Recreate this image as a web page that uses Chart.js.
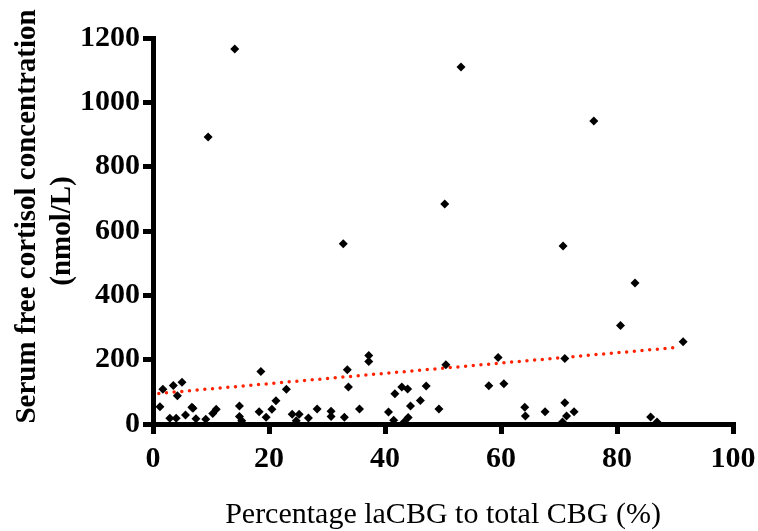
<!DOCTYPE html>
<html>
<head>
<meta charset="utf-8">
<script src="https://cdn.jsdelivr.net/npm/chart.js@4.4.0/dist/chart.umd.min.js"></script>
<style>
  html, body { margin: 0; padding: 0; background: #fff; }
</style>
</head>
<body>
<canvas id="scatter" width="758" height="531"></canvas>
<script>
// laCBG % vs serum free cortisol
const pctLaCBG = [
  1.2, 1.7, 2.9, 4.0, 3.5, 4.2, 5.0, 5.6, 6.7, 6.9, 7.4, 9.1, 10.3, 10.9,
  14.9, 14.9, 15.3, 18.6, 18.3, 19.5, 20.5, 21.2, 23.0, 24.0, 24.7, 25.2,
  26.8, 28.3, 30.7, 30.7, 33.0, 33.5, 33.7, 35.6, 37.2, 37.2, 40.6, 41.5,
  41.7, 42.9, 43.9, 43.3, 44.0, 44.4, 46.1, 47.1, 49.3, 50.5, 57.9, 59.5,
  60.5, 64.1, 64.2, 67.6, 71.0, 71.0, 71.3, 70.6, 72.6, 80.6, 91.4, 85.8,
  86.9, 14.1, 9.5, 53.1, 76.0, 50.3, 32.8, 70.7, 83.1
];
const freeCortisol = [
  54, 108, 18, 18, 120, 88, 130, 28, 52, 49, 16, 15, 33, 46,
  56, 23, 10, 163, 38, 21, 46, 72, 108, 30, 10, 30,
  19, 47, 40, 23, 21, 169, 115, 47, 213, 194, 37, 12,
  94, 115, 109, 6, 20, 56, 73, 118, 47, 184, 119, 207,
  125, 52, 25, 38, 204, 66, 25, 6, 38, 306, 256, 22,
  6, 1166, 892, 1110, 942, 684, 560, 553, 438
];

// fitted trend line end points
const trendX = [1.0, 90.3];
const trendY = [95, 238];

const xTicks = [0, 20, 40, 60, 80, 100];
const yTicks = [0, 200, 400, 600, 800, 1000, 1200];

const points = pctLaCBG.map((x, i) => ({ x: x, y: freeCortisol[i] }));
const trend = trendX.map((x, i) => ({ x: x, y: trendY[i] }));

const serif = "'Liberation Serif', 'Times New Roman', serif";

new Chart(document.getElementById("scatter"), {
  type: "scatter",
  data: {
    datasets: [
      {
        label: "trend",
        type: "line",
        data: trend,
        borderColor: "#ff2200",
        borderWidth: 3.5,
        borderDash: [0, 7.7],
        borderCapStyle: "round",
        pointRadius: 0,
        fill: false,
        order: 2
      },
      {
        label: "samples",
        data: points,
        pointStyle: "rectRot",
        pointRadius: 4.5,
        backgroundColor: "#000",
        borderColor: "#000",
        borderWidth: 0,
        order: 1
      }
    ]
  },
  options: {
    responsive: false,
    animation: false,
    clip: false,
    layout: { padding: { top: 38, right: 25 } },
    plugins: { legend: { display: false }, tooltip: { enabled: false } },
    scales: {
      x: {
        type: "linear",
        min: 0, max: 100,
        afterFit: s => { s.height = 107; s.paddingRight = 0; },
        afterBuildTicks: s => { s.ticks = xTicks.map(v => ({ value: v })); },
        border: { color: "#000", width: 5 },
        grid: { drawOnChartArea: false, color: "#000", lineWidth: 5, tickLength: 10 },
        ticks: {
          color: "#000",
          padding: 7,
          callback: v => String(v),
          font: { family: serif, size: 30, weight: "bold" }
        },
        title: {
          display: true,
          text: "Percentage laCBG to total CBG (%)",
          color: "#000",
          padding: { top: 18, bottom: 1 },
          font: { family: serif, size: 30, lineHeight: 1.0 }
        }
      },
      y: {
        type: "linear",
        min: 0, max: 1200,
        afterFit: s => { s.width = 153; },
        afterBuildTicks: s => { s.ticks = yTicks.map(v => ({ value: v })); },
        border: { color: "#000", width: 5 },
        grid: { drawOnChartArea: false, color: "#000", lineWidth: 5, tickLength: 10 },
        ticks: {
          color: "#000",
          padding: 3,
          callback: v => String(v),
          font: { family: serif, size: 30, weight: "bold" }
        },
        title: {
          display: true,
          text: ["    Serum free cortisol concentration", "(nmol/L)"],
          color: "#000",
          padding: { top: 10, bottom: 0 },
          font: { family: serif, size: 29, weight: "bold", lineHeight: 1.2 }
        }
      }
    }
  }
});
</script>
</body>
</html>
